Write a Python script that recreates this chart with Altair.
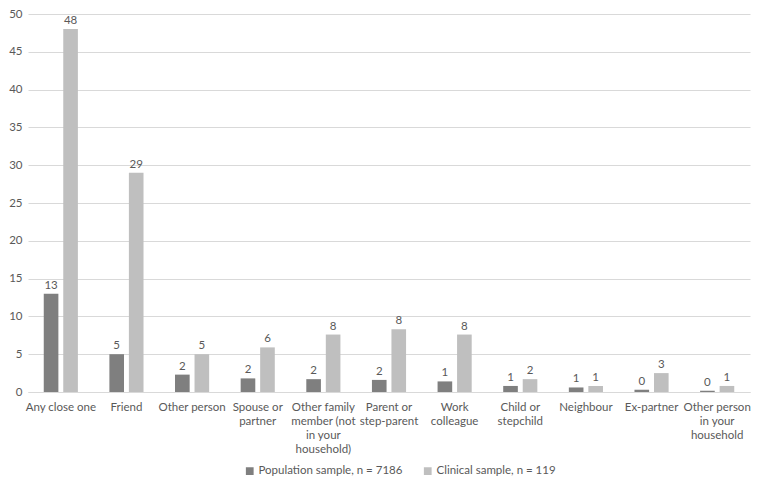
import altair as alt
import pandas as pd

categories = [
    "Any close one", "Friend", "Other person", "Spouse or\npartner",
    "Other family\nmember (not\nin your\nhousehold)", "Parent or\nstep-parent",
    "Work\ncolleague", "Child or\nstepchild", "Neighbour", "Ex-partner",
    "Other person\nin your\nhousehold",
]
series = ["Population sample, n = 7186", "Clinical sample, n = 119"]
population = [13.0, 5.0, 2.3, 1.8, 1.7, 1.6, 1.4, 0.8, 0.6, 0.3, 0.15]
clinical = [48.0, 29.0, 5.0, 5.9, 7.6, 8.3, 7.6, 1.7, 0.8, 2.5, 0.8]
population_labels = ["13", "5", "2", "2", "2", "2", "1", "1", "1", "0", "0"]
clinical_labels = ["48", "29", "5", "6", "8", "8", "8", "2", "1", "3", "1"]
colors = ["#7f7f7f", "#bfbfbf"]

rows = []
for i, c in enumerate(categories):
    rows.append({"category": c, "series": series[0], "value": population[i], "label": population_labels[i]})
    rows.append({"category": c, "series": series[1], "value": clinical[i], "label": clinical_labels[i]})
df = pd.DataFrame(rows)

font = "Lato"
txt = "#595959"

base = alt.Chart(df).encode(
    x=alt.X("category:N", sort=categories, title=None,
            scale=alt.Scale(paddingInner=0.48, paddingOuter=0.24),
            axis=alt.Axis(labelAngle=0, labelExpr="split(datum.label, '\\n')",
                          labelFont=font, labelFontSize=11.5, labelColor=txt,
                          labelLineHeight=14, labelPadding=9,
                          domainColor="#d9d9d9", ticks=False, labelLimit=200)),
    xOffset=alt.XOffset("series:N", sort=series, scale=alt.Scale(paddingInner=0.25)),
    y=alt.Y("value:Q", title=None,
            scale=alt.Scale(domain=[0, 50], nice=False),
            axis=alt.Axis(values=list(range(0, 51, 5)), domain=False, ticks=False,
                          labelFont=font, labelFontSize=11.5, labelColor=txt,
                          gridColor="#d9d9d9", labelPadding=6)),
)

bars = base.mark_bar().encode(
    color=alt.Color("series:N", sort=series,
                    scale=alt.Scale(domain=series, range=colors),
                    legend=alt.Legend(title=None, orient="none", direction="horizontal",
                                      legendX=216, legendY=451,
                                      symbolType="square", symbolSize=60,
                                      symbolStrokeWidth=0, labelOffset=3,
                                      labelFont=font, labelFontSize=11.5, labelColor=txt,
                                      columnPadding=19, labelLimit=300)),
)

labels = base.mark_text(dy=-8, font=font, fontSize=11.5, color=txt).encode(
    text="label:N"
)

chart = (bars + labels).properties(
    width=722, height=378,
    padding={"left": 0, "top": 0, "right": 0, "bottom": 0},
).configure_view(stroke=None)

chart.save("out.html", embed_options={"renderer": "svg", "actions": False})
